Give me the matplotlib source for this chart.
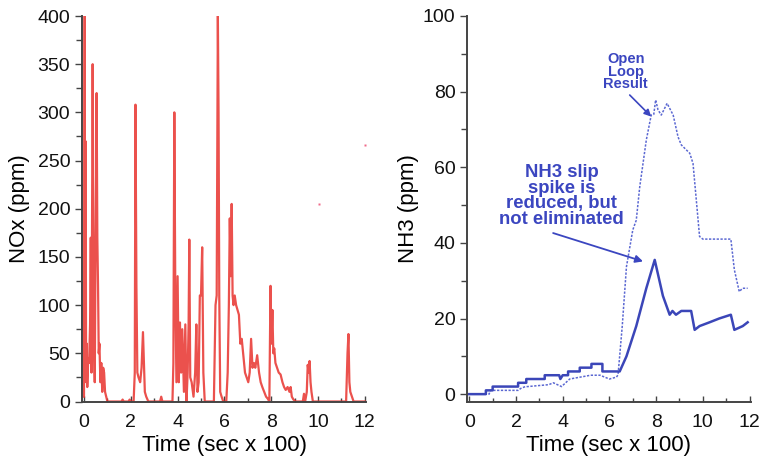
import matplotlib
matplotlib.use("Agg")
import matplotlib.pyplot as plt
from matplotlib.ticker import MultipleLocator

plt.rcParams['font.family'] = ['Liberation Sans', 'DejaVu Sans']

# ---- NOx trace (left panel) ----
nox_time = [0.0, 0.03, 0.05, 0.07, 0.09, 0.12, 0.14, 0.18, 0.22, 0.26, 0.29, 0.32, 0.35,
            0.37, 0.40, 0.43, 0.46, 0.49, 0.52, 0.54, 0.57, 0.60, 0.63, 0.66, 0.70, 0.74,
            0.78, 0.82, 0.86, 0.90, 0.95, 1.0, 1.6, 1.65, 1.7, 1.9, 1.95, 2.0, 2.12, 2.17,
            2.20, 2.24, 2.28, 2.33, 2.40, 2.46, 2.52, 2.56, 2.60, 2.66, 2.75, 3.25, 3.3,
            3.35, 3.78, 3.82, 3.86, 3.90, 3.95, 4.00, 4.05, 4.10, 4.15, 4.20, 4.27, 4.33,
            4.38, 4.43, 4.47, 4.50, 4.54, 4.60, 4.68, 4.75, 4.80, 4.85, 4.90, 4.95, 5.00,
            5.05, 5.10, 5.16, 5.55, 5.62, 5.67, 5.72, 5.75, 5.78, 5.82, 5.88, 5.95, 6.08,
            6.14, 6.19, 6.23, 6.27, 6.31, 6.35, 6.39, 6.44, 6.50, 6.56, 6.62, 6.68, 6.74,
            6.80, 6.88, 6.95, 7.02, 7.08, 7.14, 7.20, 7.26, 7.32, 7.40, 7.48, 7.55, 7.62,
            7.70, 7.78, 7.85, 7.92, 7.97, 8.01, 8.05, 8.09, 8.13, 8.18, 8.25, 8.32, 8.40,
            8.48, 8.55, 8.62, 8.70, 8.78, 8.83, 8.88, 8.95, 9.05, 9.35, 9.40, 9.45, 9.52,
            9.56, 9.60, 9.64, 9.68, 9.72, 9.78, 9.85, 11.20, 11.26, 11.30, 11.34, 11.38,
            11.45, 11.52, 11.6, 12.0]
nox_ppm = [5, 400, 40, 270, 20, 60, 15, 45, 40, 80, 170, 30, 230,
           350, 180, 60, 20, 150, 240, 320, 170, 120, 50, 60, 20, 40,
           10, 35, 30, 10, 5, 0, 0, 2, 0, 0, 2, 0, 0, 30,
           308, 120, 30, 25, 20, 35, 72, 40, 10, 5, 0, 0, 5,
           0, 0, 40, 300, 120, 20, 130, 20, 82, 30, 75, 10, 80,
           0, 30, 80, 168, 25, 20, 5, 30, 80, 10, 20, 110, 110,
           160, 30, 0, 0, 100, 110, 400, 300, 110, 10, 5, 0, 0,
           30, 100, 190, 130, 205, 110, 100, 110, 100, 95, 90, 60, 65,
           50, 30, 25, 20, 30, 65, 35, 40, 35, 48, 30, 20, 15,
           10, 5, 3, 0, 120, 60, 95, 50, 55, 40, 35, 30, 28,
           20, 15, 12, 15, 10, 15, 5, 2, 0, 0, 8, 0, 10,
           38, 30, 42, 20, 10, 0, 0, 0, 50, 70, 20, 10,
           5, 0, 0, 0]
# stray isolated samples
nox_stray_time = [10.05, 12.0]
nox_stray_ppm = [205, 266]

# ---- NH3 traces (right panel) ----
nh3_ctrl_time = [0.0, 0.71, 0.71, 1.0, 1.0, 2.09, 2.09, 2.44, 2.44, 3.23, 3.23, 3.85, 3.9, 4.0,
                 4.23, 4.23, 4.73, 4.73, 5.23, 5.23, 5.7, 5.7, 6.44, 6.73, 7.15, 7.58, 7.94,
                 8.29, 8.58, 8.70, 8.85, 9.08, 9.50, 9.65, 9.86, 10.29, 10.70, 11.20, 11.35,
                 11.71, 11.92]
nh3_ctrl_ppm = [0, 0, 1, 1, 2, 2, 3, 3, 4, 4, 5, 5, 4, 5,
                5, 6, 6, 7, 7, 8, 8, 6, 6, 10, 18, 28, 35.5,
                26, 21, 22, 21, 22, 22, 17, 18, 19, 20, 21, 17,
                18, 19]

nh3_open_time = [0.0, 0.85, 0.9, 2.1, 2.2, 2.4, 2.5, 3.4, 3.6, 3.95, 4.3, 5.2, 5.6, 5.8, 6.0,
                 6.30, 6.37, 6.55, 6.73, 7.0, 7.15, 7.30, 7.58, 7.79, 7.90, 7.98, 8.08,
                 8.22, 8.47, 8.73, 8.94, 9.08, 9.44, 9.58, 9.72, 9.86, 10.0, 11.2, 11.35,
                 11.56, 11.7, 11.92]
nh3_open_ppm = [0, 0, 1, 1, 1.5, 2, 2, 2.5, 3, 2, 4, 5, 5, 4.5, 4,
                4.5, 5.1, 18, 33.7, 43.4, 46, 54.9, 67.2, 73.8, 74, 77.8, 75.2,
                73.8, 76.9, 73.8, 68, 65.9, 63.7, 61, 51.4, 41.7, 41, 41, 32.9,
                27.1, 28, 28]

RED = '#e8332e'
BLUE_SOLID = '#3b46b8'
BLUE_DOT = '#5b68d2'
TXT_BLUE = '#3b46c0'

fig = plt.figure(figsize=(7.61, 4.63), dpi=100)
ax1 = fig.add_axes([82 / 761, 1 - 401.5 / 463, (366 - 82) / 761, (401.5 - 16) / 463])
ax2 = fig.add_axes([467.3 / 761, 1 - 401.7 / 463, (750.7 - 467.3) / 761, (401.7 - 16) / 463])

# Left panel
ax1.plot(nox_time, nox_ppm, color=RED, lw=1.6, alpha=0.85)
ax1.plot(nox_stray_time, nox_stray_ppm, ls='none', marker='s', ms=1.8, color='#f06a8a', mec='none')
ax1.set_xlim(-0.085, 12.05)
ax1.set_ylim(0, 400)
ax1.yaxis.set_major_locator(MultipleLocator(50))
ax1.yaxis.set_minor_locator(MultipleLocator(25))
ax1.set_ylabel('NOx (ppm)', fontsize=16, labelpad=5)

# Right panel
ax2.plot(nh3_open_time, nh3_open_ppm, color=BLUE_DOT, lw=1.1, ls=(0, (1.5, 1.0)))
ax2.plot(nh3_ctrl_time, nh3_ctrl_ppm, color=BLUE_SOLID, lw=1.8)
ax2.set_xlim(-0.085, 12.05)
ax2.set_ylim(-2, 100)
ax2.yaxis.set_major_locator(MultipleLocator(20))
ax2.yaxis.set_minor_locator(MultipleLocator(10))
ax2.set_ylabel('NH3 (ppm)', fontsize=16, labelpad=3)

for ax in (ax1, ax2):
    ax.spines['top'].set_visible(False)
    ax.spines['right'].set_visible(False)
    for s in ('left', 'bottom'):
        ax.spines[s].set_color('#444444')
        ax.spines[s].set_linewidth(1.4)
    ax.xaxis.set_major_locator(MultipleLocator(2))
    ax.xaxis.set_minor_locator(MultipleLocator(1))
    ax.tick_params(axis='y', which='major', direction='out', length=5, width=1, colors='#444444',
                   labelsize=14, labelcolor='#111111')
    ax.tick_params(axis='y', which='minor', direction='out', length=4, width=1, colors='#444444')
    ax.tick_params(axis='x', which='major', direction='in', length=4, width=1, colors='#444444',
                   labelsize=14, labelcolor='#111111', pad=9)
    ax.tick_params(axis='x', which='minor', direction='in', length=3, width=1, colors='#444444')
    ax.set_xlabel('Time (sec x 100)', fontsize=16, labelpad=3)

# Annotations
ax2.text(6.7, 85.3, 'Open\nLoop\nResult', ha='center', va='center', fontsize=10.5,
         fontweight='bold', color=TXT_BLUE, linespacing=0.9)
ax2.annotate('', xy=(7.79, 73.4), xytext=(6.87, 79.1),
             arrowprops=dict(arrowstyle='-|>', color=TXT_BLUE, lw=1.2, mutation_scale=10,
                             shrinkA=0, shrinkB=0))
ax2.text(3.95, 52.4, 'NH3 slip\nspike is\nreduced, but\nnot eliminated', ha='center', va='center',
         fontsize=13.3, fontweight='bold', color=TXT_BLUE, linespacing=0.88)
ax2.annotate('', xy=(7.44, 35.1), xytext=(3.59, 42.6),
             arrowprops=dict(arrowstyle='-|>', color=TXT_BLUE, lw=1.3, mutation_scale=11,
                             shrinkA=0, shrinkB=0))

fig.savefig('out.png', dpi=100)
